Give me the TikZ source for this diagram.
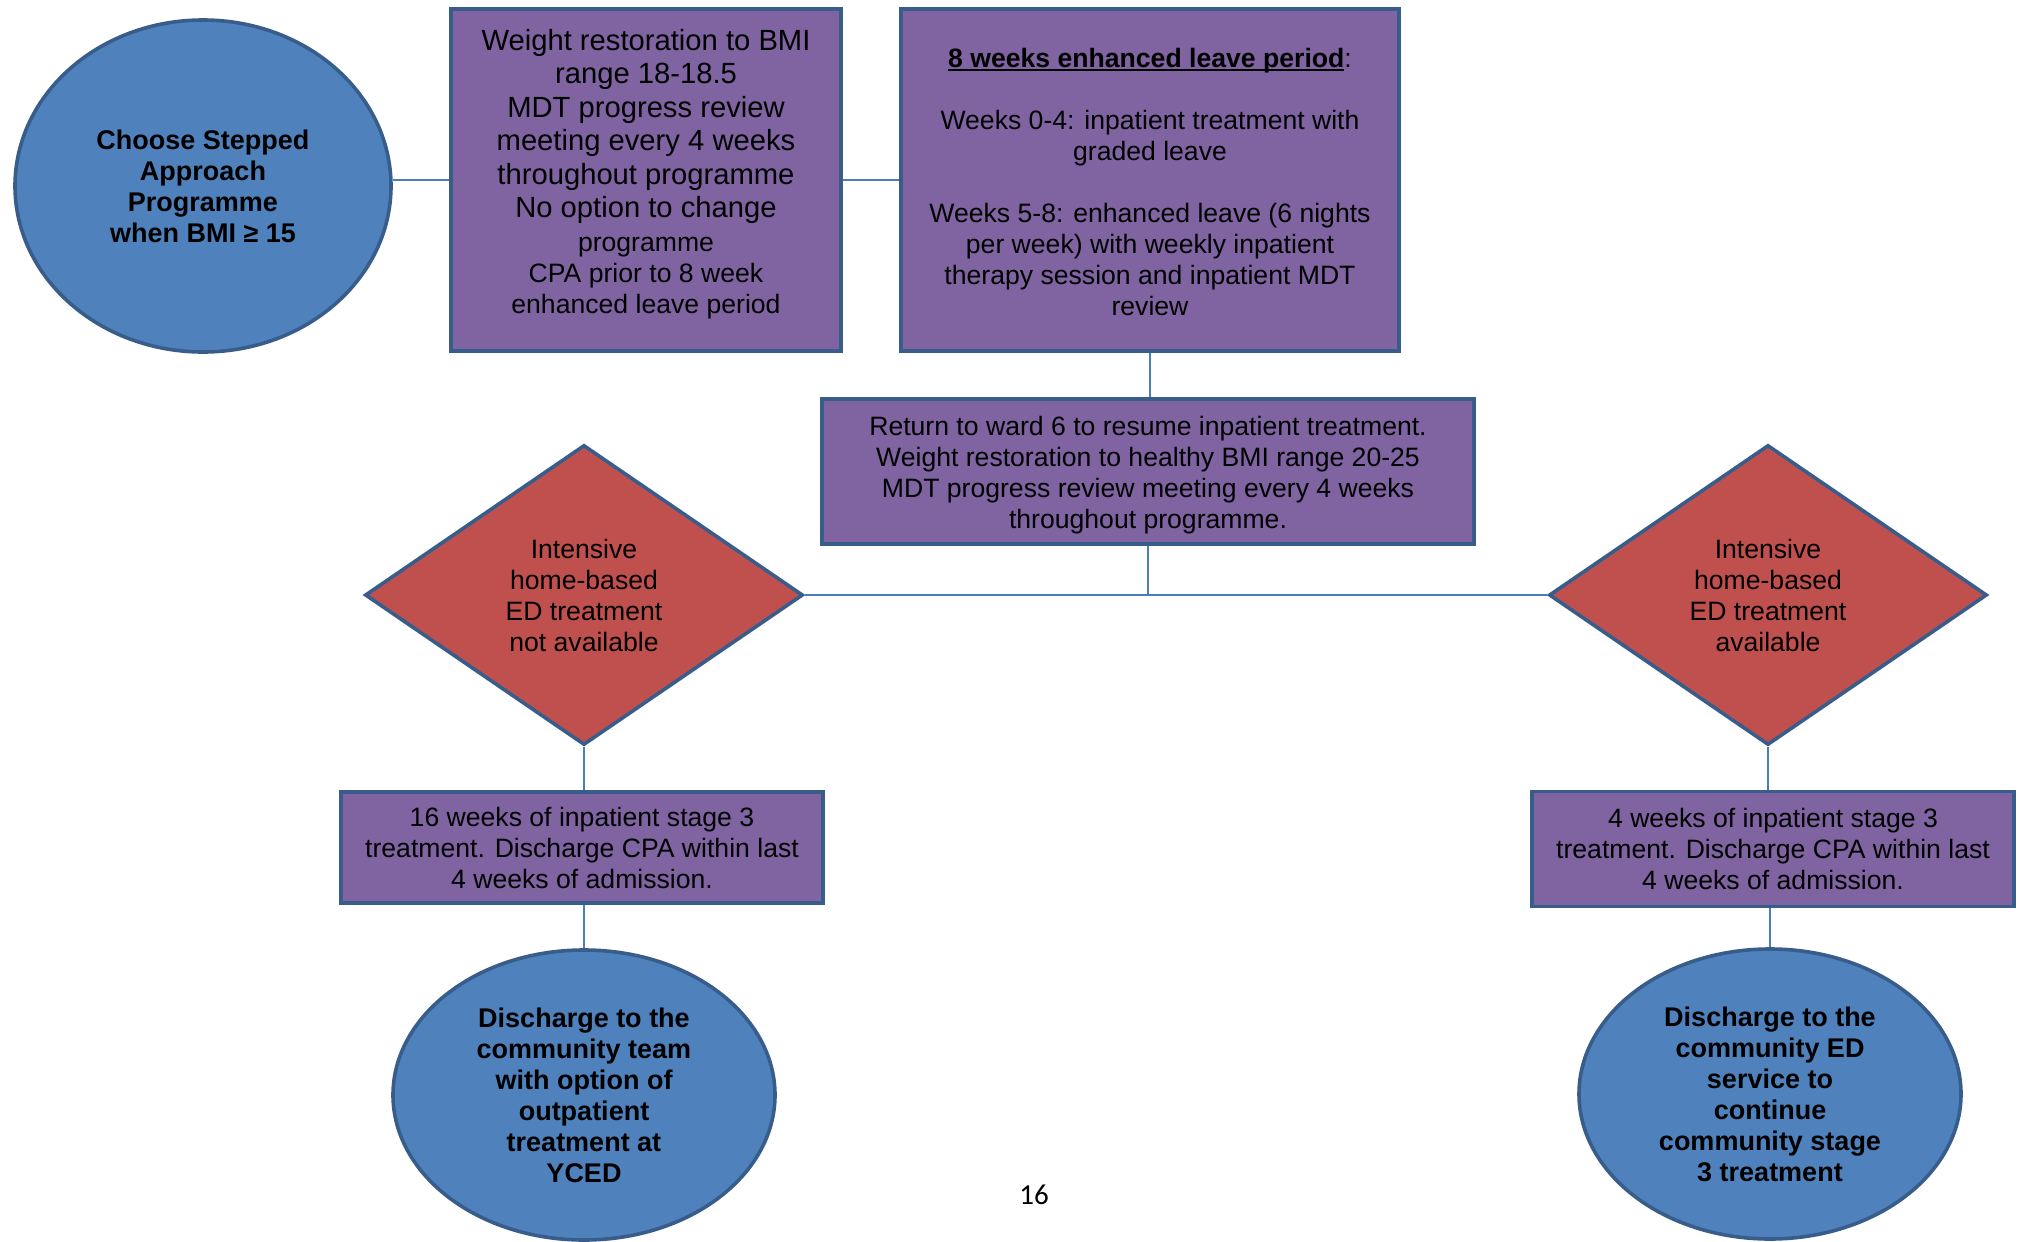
\documentclass[tikz,border=0pt]{standalone}
\usepackage{fontspec}
\setmainfont{Liberation Sans}
\newfontfamily\pagefont{Carlito}
\usetikzlibrary{shapes.geometric}
\definecolor{bfill}{HTML}{4F81BD}
\definecolor{bline}{HTML}{385D8A}
\definecolor{pfill}{HTML}{8064A2}
\definecolor{rfill}{HTML}{C0504D}
\definecolor{conn}{HTML}{4A7EBB}
\newcommand{\txtA}{\fontsize{13.3pt}{15.5pt}\selectfont}
\newcommand{\txtC}{\fontsize{13.5pt}{15.5pt}\selectfont}
\newcommand{\txtB}{\fontsize{14.6pt}{16.75pt}\selectfont}
\newcommand{\myul}[1]{\setbox0\hbox{#1}\rlap{\rule[-1.7pt]{\wd0}{0.9pt}}\box0}
\tikzset{
  oval/.style={ellipse, draw=bline, fill=bfill, line width=1.8pt, inner sep=0pt, align=center, font=\txtC\bfseries},
  pbox/.style={rectangle, draw=bline, fill=pfill, line width=1.8pt, inner sep=0pt, align=center, font=\txtA},
  dia/.style={diamond, draw=bline, fill=rfill, line width=1.8pt, inner sep=0pt, aspect=1.457, align=center, font=\txtA, minimum width=219pt, minimum height=150pt},
  link/.style={draw=conn, line width=0.75pt}
}
\begin{document}
\begin{tikzpicture}[x=0.5pt,y=-0.5pt]
\useasboundingbox (0,0) rectangle (2020,1242);
\node[oval, minimum width=188pt, minimum height=166pt] (e1) at (203,186)
  {Choose Stepped\\Approach\\Programme\\when BMI ≥ 15};
\node[pbox, minimum width=195pt, minimum height=171pt, font=\txtB] (b1) at (646,180)
  {Weight restoration to BMI\\range 18-18.5\\MDT progress review\\meeting every 4 weeks\\throughout programme\\No option to change\\{\txtA programme}\\[-1.25pt]{\txtA CPA prior to 8 week}\\[-1.25pt]{\txtA enhanced leave period}\\[-8.1pt]\mbox{}};
\node[pbox, minimum width=249pt, minimum height=171pt] (b2) at (1150,180)
  {\rule{0pt}{11.6pt}\myul{\textbf{8 weeks enhanced leave period}}:\\[15.5pt]Weeks 0-4: inpatient treatment with\\graded leave\\[15.5pt]Weeks 5-8: enhanced leave (6 nights\\per week) with weekly inpatient\\therapy session and inpatient MDT\\review};
\node[pbox, minimum width=326pt, minimum height=72.5pt] (b3) at (1148,471.5)
  {\rule{0pt}{13.5pt}Return to ward 6 to resume inpatient treatment.\\Weight restoration to healthy BMI range 20-25\\MDT progress review meeting every 4 weeks\\throughout programme.};
\node[dia] (d1) at (584,595)
  {Intensive\\home-based\\ED treatment\\not available};
\node[dia] (d2) at (1768,595)
  {Intensive\\home-based\\ED treatment\\available};
\node[pbox, minimum width=241pt, minimum height=55.5pt] (b4) at (582,847.5)
  {16 weeks of inpatient stage 3\\treatment. Discharge CPA within last\\4 weeks of admission.};
\node[pbox, minimum width=241pt, minimum height=57.5pt] (b5) at (1773,849)
  {4 weeks of inpatient stage 3\\treatment. Discharge CPA within last\\4 weeks of admission.};
\node[oval, minimum width=191pt, minimum height=145pt] (e2) at (584,1095)
  {Discharge to the\\community team\\with option of\\outpatient\\treatment at\\YCED};
\node[oval, minimum width=191pt, minimum height=145pt] (e3) at (1770,1094)
  {Discharge to the\\community ED\\service to\\continue\\community stage\\3 treatment};
\node[font=\pagefont\fontsize{14.5pt}{16pt}\selectfont] (pg) at (1034,1195) {16};
\coordinate (j) at (b3.south |- d1.east);
\path[link] (b1.west) -- (b1.west -| e1.east);
\path[link] (b1.east) -- (b2.west);
\path[link] (b2.south) -- (b2.south |- b3.north);
\path[link] (b3.south) -- (j);
\path[link] (d1.east) -- (d2.west);
\path[link] (d1.south) -- (d1.south |- b4.north);
\path[link] (d2.south) -- (d2.south |- b5.north);
\path[link] (b4.south -| e2.north) -- (e2.north);
\path[link] (b5.south -| e3.north) -- (e3.north);
\end{tikzpicture}
\end{document}
